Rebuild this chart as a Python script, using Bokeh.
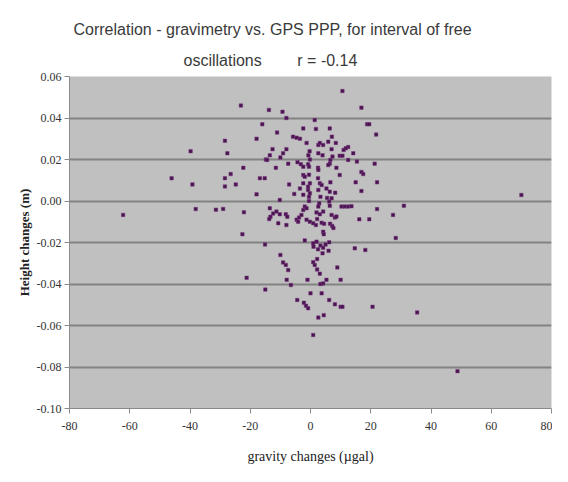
from bokeh.plotting import figure
from bokeh.models import FixedTicker, PrintfTickFormatter, Title, Range1d, ColumnDataSource
from bokeh.embed import file_html
from bokeh.resources import INLINE

# ---- data ----
gravity_ugal = [
    -62.2, -46.1, -39.8, -39.2, -38.1, -31.4, -29.0, -28.4, -27.6, -26.5,
    -28.4, -28.4, -24.8, -23.1, -22.3, -22.1, -22.6, -21.2, -17.9, -17.9,
    -16.8, -15.2, -16.0, -15.1, -15.0, -13.8, -14.8, -14.4, -13.5, -12.6,
    -11.1, -11.5, -13.5, -12.4, -13.3, -13.7, -11.3, -10.2, -10.7, -10.2,
    -10.0, -9.1, -8.2, -7.4, -7.9, -6.5, -9.3, -8.0, -9.1, -10.0,
    -8.0, -7.4, -7.1, -8.2, -7.7, -8.0, -5.8, -4.6, -3.5, -5.4,
    -4.4, -2.2, -1.5, -0.8, -4.6, -3.8, -3.0, -4.1, -4.3, -3.2,
    -2.4, -2.4, -1.3, -2.4, -1.9, -3.5, -2.4, -2.4, -1.9, -2.4,
    -1.3, -1.9, -1.0, -0.3, -0.7, -0.2, -0.8, -0.5, -0.5, -0.2,
    -0.8, -0.8, -0.2, -0.5, -0.5, -1.3, -0.2, 0.9, 0.0, 0.9,
    1.4, 1.8, 2.6, 3.1, 4.2, 2.6, 4.0, 2.5, 2.6, 2.5,
    3.1, 3.7, 2.6, 3.3, 2.9, 2.6, 2.0, 3.1, 4.2, 2.2,
    1.8, 3.7, 4.5, 4.2, 4.4, 0.9, 2.0, 1.0, 2.5, 3.3,
    4.2, 4.0, 2.2, 0.9, 1.4, 2.2, 3.1, 3.3, 4.2, 5.3,
    3.7, 2.6, 4.4, 6.4, 7.1, 5.9, 8.4, 7.0, 7.3, 6.6,
    6.4, 5.9, 8.6, 9.7, 9.7, 6.6, 5.3, 6.4, 7.0, 6.2,
    8.2, 5.5, 6.4, 7.0, 8.1, 8.6, 6.5, 7.2, 7.6, 6.2,
    5.0, 6.0, 8.9, 6.2, 8.1, 10.6, 16.9, 18.8, 19.5, 21.8,
    12.5, 11.7, 11.0, 10.6, 14.2, 12.5, 15.4, 21.3, 16.9, 17.5,
    15.0, 22.1, 16.9, 70.0, 10.3, 11.4, 12.5, 13.6, 31.0, 22.1,
    27.4, 16.2, 19.5, 28.3, 14.7, 18.2, 10.0, 10.0, 10.6, 20.6,
    35.4, 48.8,
]
height_m = [
    -0.0067, 0.011, 0.024, 0.008, -0.0039, -0.0042, -0.0038, 0.029, 0.023, 0.013,
    0.011, 0.007, 0.008, 0.046, 0.016, -0.0054, -0.016, -0.037, 0.030, 0.0032,
    0.011, 0.011, 0.037, -0.021, -0.0427, 0.0439, 0.020, 0.0198, 0.022, 0.025,
    0.033, 0.016, -0.0035, -0.006, -0.0076, -0.0087, -0.0051, -0.0064, -0.0107, 0.0005,
    -0.026, -0.0296, -0.0308, -0.0333, -0.038, -0.0405, 0.043, 0.040, 0.023, 0.021,
    0.025, 0.018, 0.008, -0.0064, -0.0076, -0.0116, 0.031, 0.0305, 0.030, 0.0034,
    -0.0477, -0.049, -0.0505, -0.0517, -0.009, -0.008, -0.0067, -0.010, 0.0187, 0.0177,
    0.0165, 0.035, 0.028, 0.0125, 0.0117, 0.006, 0.0085, 0.003, -0.0027, -0.0043,
    -0.0035, -0.019, -0.038, 0.024, 0.022, 0.020, 0.0177, 0.0165, 0.0127, 0.0085,
    0.0069, 0.0053, 0.0037, 0.002, 0.000, -0.009, -0.010, -0.0107, -0.0445, -0.0646,
    0.039, 0.0347, 0.027, 0.028, 0.027, 0.023, 0.022, 0.016, 0.015, 0.011,
    0.0085, 0.0077, 0.0053, 0.002, -0.0011, -0.0027, -0.0055, -0.0064, -0.0051, -0.0087,
    -0.0116, -0.0105, -0.011, -0.0148, -0.016, -0.0204, -0.0196, -0.022, -0.0233, -0.0215,
    -0.0225, -0.0252, -0.028, -0.0295, -0.0308, -0.033, -0.035, -0.040, -0.0397, -0.038,
    -0.0445, -0.0562, -0.055, 0.035, 0.031, 0.0286, 0.028, 0.025, 0.0214, 0.0198,
    0.018, 0.0173, 0.016, 0.0218, 0.0125, 0.009, 0.006, 0.0045, 0.0013, -0.0003,
    0.004, 0.0015, -0.0023, -0.0067, -0.008, -0.0075, -0.011, -0.012, -0.013, -0.0199,
    -0.021, -0.024, -0.032, -0.0477, -0.0498, 0.053, 0.045, 0.037, 0.037, 0.032,
    0.026, 0.0254, 0.0246, 0.0218, 0.023, 0.0198, 0.019, 0.018, 0.014, 0.013,
    0.009, 0.009, 0.0048, 0.0029, -0.0027, -0.0027, -0.0027, -0.0025, -0.0023, -0.0039,
    -0.0067, -0.0088, -0.0088, -0.0178, -0.0228, -0.0236, -0.038, -0.051, -0.051, -0.051,
    -0.0537, -0.082,
]
x_ticks = [-80, -60, -40, -20, 0, 20, 40, 60, 80]
y_ticks = [-0.10, -0.08, -0.06, -0.04, -0.02, 0.00, 0.02, 0.04, 0.06]
grid_levels = [-0.08, -0.06, -0.04, -0.02, 0.00, 0.02, 0.04]
title_line1 = "Correlation - gravimetry vs. GPS PPP, for interval of free"
title_line2 = "oscillations" + "\u00a0" * 7 + " r = -0.14"
x_label = "gravity changes (\u00b5gal)"
y_label = "Height changes (m)"

n = min(len(gravity_ugal), len(height_m))
src = ColumnDataSource(data=dict(x=gravity_ugal[:n], y=height_m[:n]))

p = figure(width=552, height=466, output_backend="svg", toolbar_location=None,
           x_range=Range1d(-80, 80), y_range=Range1d(-0.10, 0.06),
           min_border_left=69, min_border_right=1, min_border_top=76, min_border_bottom=58)
p.background_fill_color = "#c0c0c0"
p.border_fill_color = "white"
p.outline_line_color = None

p.xgrid.visible = False
p.ygrid.ticker = FixedTicker(ticks=grid_levels)
p.ygrid.grid_line_color = "#828282"
p.ygrid.grid_line_width = 2

for ax in (p.xaxis[0], p.yaxis[0]):
    ax.axis_line_color = "#8a8a8a"
    ax.major_tick_line_color = "#8a8a8a"
    ax.major_tick_out = 5
    ax.major_tick_in = 0
    ax.minor_tick_line_color = None
    ax.major_label_text_font = "Liberation Serif"
    ax.major_label_text_font_size = "12px"
    ax.major_label_text_color = "#333333"
    ax.axis_label_text_font = "Liberation Serif"
    ax.axis_label_text_color = "#222222"

p.xaxis[0].ticker = FixedTicker(ticks=x_ticks)
p.xaxis[0].formatter = PrintfTickFormatter(format="%d")
p.xaxis[0].major_label_standoff = 8
p.xaxis[0].axis_label = x_label
p.xaxis[0].axis_label_text_font_size = "14px"
p.xaxis[0].axis_label_text_font_style = "normal"
p.xaxis[0].axis_label_standoff = 16

p.yaxis[0].ticker = FixedTicker(ticks=y_ticks)
p.yaxis[0].formatter = PrintfTickFormatter(format="%.2f")
p.yaxis[0].major_label_standoff = 3
p.yaxis[0].axis_label = y_label
p.yaxis[0].axis_label_text_font_size = "13px"
p.yaxis[0].axis_label_text_font_style = "bold"
p.yaxis[0].axis_label_standoff = 2

p.scatter("x", "y", source=src, marker="square", size=3.5,
          fill_color="#4a1450", line_color="#7a3a80", line_width=0.5)

t2 = Title(text=title_line2, align="left", offset=114, standoff=16,
           text_font="Liberation Sans", text_font_size="16px",
           text_font_style="normal", text_color="#3a3a3a")
t1 = Title(text=title_line1, align="left", offset=4, standoff=7,
           text_font="Liberation Sans", text_font_size="16px",
           text_font_style="normal", text_color="#3a3a3a")
p.add_layout(t2, "above")
p.add_layout(t1, "above")

open("out.html", "w").write(file_html(p, INLINE))
